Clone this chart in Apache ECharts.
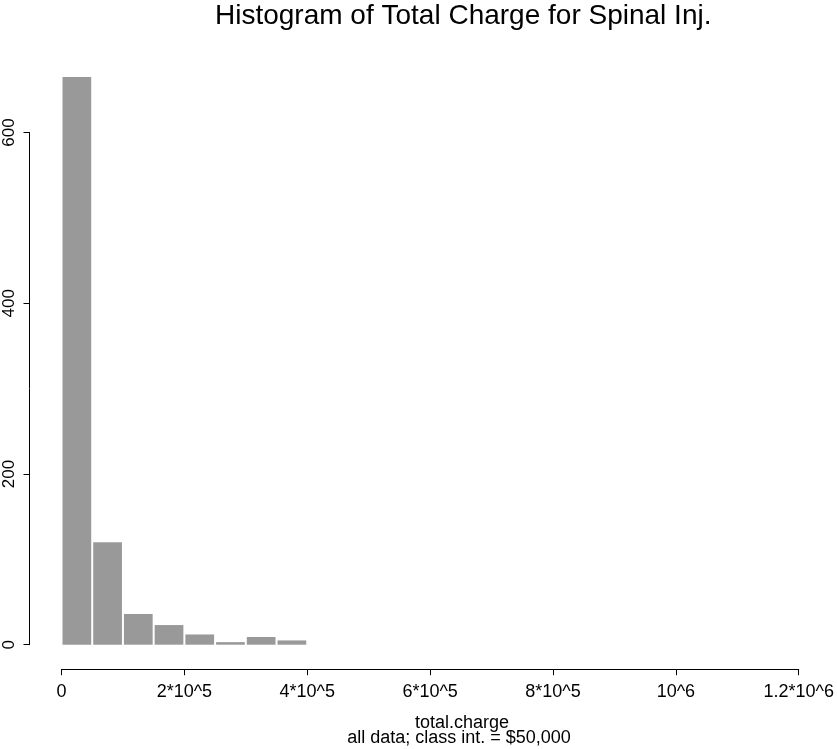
<!DOCTYPE html>
<html>
<head>
<meta charset="utf-8">
<script src="https://cdn.jsdelivr.net/npm/echarts@6/dist/echarts.min.js"></script>
<style>
html,body{margin:0;padding:0;background:#fff;}
#chart{width:837px;height:749px;}
</style>
</head>
<body>
<div id="chart"></div>
<script>
// ---- data ----
var titleText = 'Histogram of Total Charge for Spinal Inj.';
var xName = 'total.charge';
var xSub = 'all data; class int. = $50,000';
var binWidth = 50000;
var counts = [665, 120, 36, 23, 12, 3, 9, 5];
var xTickValues = [0, 200000, 400000, 600000, 800000, 1000000, 1200000];
var xTickLabels = ['0', '2*10^5', '4*10^5', '6*10^5', '8*10^5', '10^6', '1.2*10^6'];
var yTickLabels = ['0', '200', '400', '600'];

var histData = counts.map(function (c, i) {
  return [i * binWidth, (i + 1) * binWidth, c];
});

var FONT = '"Liberation Sans", Arial, Helvetica, sans-serif';
var chart = echarts.init(document.getElementById('chart'), null, {renderer: 'canvas'});

chart.setOption({
  animation: false,
  backgroundColor: '#ffffff',
  grid: {left: 61.5, right: 36.3, top: 132.5, bottom: 104.3, containLabel: false},
  xAxis: {
    type: 'value', min: 0, max: 1200000, interval: 200000,
    offset: 24.5,
    axisLine: {show: true, onZero: false, lineStyle: {color: '#000', width: 1}},
    axisTick: {show: true, length: 6, lineStyle: {color: '#000', width: 1}},
    splitLine: {show: false},
    axisLabel: {
      margin: 14, color: '#000', fontSize: 18, fontFamily: FONT,
      showMinLabel: true, showMaxLabel: true,
      formatter: function (v) {
        var i = xTickValues.indexOf(v);
        return i >= 0 ? xTickLabels[i] : '';
      }
    }
  },
  yAxis: {
    type: 'value', min: 0, max: 600, interval: 200,
    offset: 32,
    axisLine: {show: true, onZero: false, lineStyle: {color: '#000', width: 1}},
    axisTick: {show: true, length: 6, lineStyle: {color: '#000', width: 1}},
    splitLine: {show: false},
    axisLabel: {
      margin: 12, rotate: 90, color: '#000', fontSize: 17, fontFamily: FONT,
      formatter: function (v) { return yTickLabels[Math.round(v / 200)]; }
    }
  },
  graphic: [
    {type: 'text', left: 215, top: 2, style: {text: titleText, fill: '#000', font: '28px ' + FONT}},
    {type: 'text', x: 462, y: 723, style: {text: xName, fill: '#000', font: '18px ' + FONT, textAlign: 'center', textVerticalAlign: 'middle'}},
    {type: 'text', x: 459, y: 738, style: {text: xSub, fill: '#000', font: '18px ' + FONT, textAlign: 'center', textVerticalAlign: 'middle'}}
  ],
  series: [{
    type: 'custom',
    clip: false,
    data: histData,
    renderItem: function (params, api) {
      var p0 = api.coord([api.value(0), api.value(2)]);
      var p1 = api.coord([api.value(1), 0]);
      return {
        type: 'rect',
        shape: {x: p0[0] + 1, y: p0[1], width: p1[0] - p0[0] - 2, height: p1[1] - p0[1]},
        style: {fill: '#999999'}
      };
    }
  }]
});
</script>
</body>
</html>
